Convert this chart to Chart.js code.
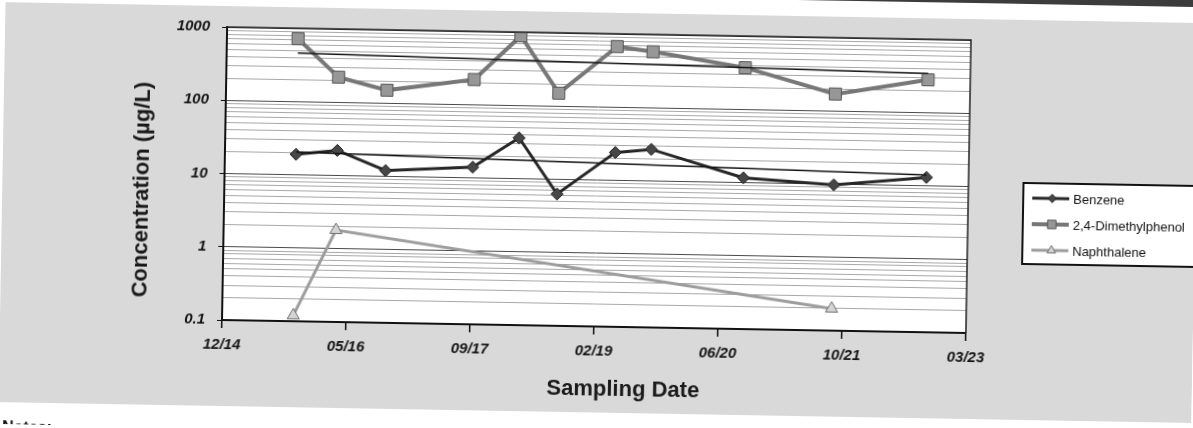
<!DOCTYPE html>
<html>
<head>
<meta charset="utf-8">
<title>Concentration vs Sampling Date</title>
<script src="https://cdn.jsdelivr.net/npm/chart.js@4.4.1/dist/chart.umd.min.js"></script>
<style>
    html, body { margin: 0; padding: 0; background: #fff; overflow: hidden; }
    #page {
        position: relative;
        width: 1193px;
        height: 428px;
        /* the report page sits a little crooked */
        transform: rotate(1deg);
        transform-origin: 222px 320px;
    }
    /* bottom edge of the table printed above the chart */
    #tableEdge {
        position: absolute;
        left: 560px;
        top: -32px;
        width: 720px;
        height: 22px;
        background: #3c3c3c;
    }
    #chartBox { position: absolute; left: 0; top: 0; width: 1193px; height: 428px; }
</style>
</head>
<body>
<div id="page">
    <div id="tableEdge"></div>
    <div id="chartBox"><canvas id="concentrationChart"></canvas></div>
</div>
<script>
// Sampling events, shared by all three compounds
const sampleDates = ['2015-10-11', '2016-03-25', '2016-10-07', '2017-09-23', '2018-03-27',
    '2018-08-31', '2019-04-20', '2019-09-12', '2020-09-19', '2021-09-19', '2022-09-27'];

// Concentrations in µg/L (null = not detected)
const benzene = [19, 22, 12, 14, 36, 6.3, 24, 27, 11.6, 9.8, 13];
const dimethylphenol = [720, 220, 150, 220, 890, 150, 670, 580, 370, 170, 280];
const naphthalene = [0.12, 1.8, null, null, null, null, null, null, null, 0.2, null];

// Exponential trend lines: value at the first and at the last sampling event
const benzeneTrend = [20.5, 14];
const dimethylphenolTrend = [460, 340];

// Date axis, one tick every 500 days
const xAxisStart = '2014-12-28';
const xTickStep = 500;
const xTickLabels = ['12/14', '05/16', '09/17', '02/19', '06/20', '10/21', '03/23'];

const yMin = 0.1;
const yMax = 1000;

const FONT = '"Liberation Sans", Arial, Helvetica, sans-serif';

function toDay(s) {
    return Date.parse(s + 'T00:00:00Z') / 86400000;
}

function asPoints(values) {
    return sampleDates.map((d, i) => ({ x: toDay(d), y: values[i] }));
}

function trendPoints(ends) {
    return [
        { x: toDay(sampleDates[0]), y: ends[0] },
        { x: toDay(sampleDates[sampleDates.length - 1]), y: ends[1] }
    ];
}

function isDecade(v) {
    const l = Math.log10(v);
    return Math.abs(l - Math.round(l)) < 1e-9;
}

// keep 1..9 x 10^n, drop the in-between 1.5 / 15 / 150 ticks
function isWholeStep(v) {
    const s = v / Math.pow(10, Math.floor(Math.log10(v) + 1e-9));
    return Math.abs(s - Math.round(s)) < 1e-6;
}

// grey page panel, white plot area and the notes heading
const pageBackground = {
    id: 'pageBackground',
    beforeDraw(chart) {
        const { ctx, chartArea: a } = chart;
        ctx.save();
        ctx.fillStyle = '#d9d9d9';
        ctx.fillRect(0, 6, chart.width, 400);
        ctx.fillStyle = '#ffffff';
        ctx.fillRect(a.left, a.top, a.right - a.left, a.bottom - a.top);
        ctx.fillStyle = '#111';
        ctx.font = 'bold 16px ' + FONT;
        ctx.textBaseline = 'top';
        ctx.fillText('Notes:', 4, 424);
        ctx.restore();
    }
};

// plot frame, axis titles and the boxed legend
const frameAndLegend = {
    id: 'frameAndLegend',
    afterDraw(chart) {
        const { ctx, chartArea: a } = chart;
        ctx.save();

        ctx.strokeStyle = '#222';
        ctx.lineWidth = 1.5;
        ctx.beginPath();
        ctx.moveTo(a.left, a.top);
        ctx.lineTo(a.right, a.top);
        ctx.lineTo(a.right, a.bottom);
        ctx.stroke();

        ctx.fillStyle = '#1a1a1a';
        ctx.font = 'bold 22px ' + FONT;
        ctx.textAlign = 'center';
        ctx.textBaseline = 'middle';
        ctx.fillText('Sampling Date', 624, 383);
        ctx.translate(140, 191);
        ctx.rotate(-Math.PI / 2);
        ctx.fillText('Concentration (µg/L)', 0, 0);
        ctx.setTransform(1, 0, 0, 1, 0, 0);

        const left = 1021, top = 169, width = 200, height = 81;
        ctx.fillStyle = '#ffffff';
        ctx.fillRect(left, top, width, height);
        ctx.strokeStyle = '#111';
        ctx.lineWidth = 2;
        ctx.strokeRect(left, top, width, height);

        const series = chart.data.datasets.filter(ds => !ds.isTrend);
        ctx.font = '13px ' + FONT;
        ctx.textAlign = 'left';
        series.forEach((ds, i) => {
            const y = top + 15 + i * 26;
            ctx.strokeStyle = ds.borderColor;
            ctx.lineWidth = ds.borderWidth;
            ctx.beginPath();
            ctx.moveTo(left + 9, y);
            ctx.lineTo(left + 46, y);
            ctx.stroke();

            ctx.fillStyle = ds.pointBackgroundColor;
            ctx.strokeStyle = ds.pointBorderColor;
            ctx.lineWidth = 1;
            Chart.helpers.drawPoint(ctx, {
                pointStyle: ds.pointStyle,
                radius: ds.pointRadius * 0.7,
                rotation: 0,
                borderWidth: 1
            }, left + 29, y);

            ctx.fillStyle = '#111';
            ctx.fillText(ds.label, left + 50, y + 1);
        });
        ctx.restore();
    }
};

const tickFont = { family: FONT, size: 15, weight: 'bold', style: 'italic' };

new Chart(document.getElementById('concentrationChart'), {
    type: 'line',
    data: {
        datasets: [{
            label: 'Benzene',
            data: asPoints(benzene),
            borderColor: '#262626',
            borderWidth: 3,
            pointStyle: 'rectRot',
            pointRadius: 6,
            pointBackgroundColor: '#474747',
            pointBorderColor: '#1e1e1e',
            pointBorderWidth: 1,
            order: 1
        }, {
            label: '2,4-Dimethylphenol',
            data: asPoints(dimethylphenol),
            borderColor: '#777777',
            borderWidth: 4,
            pointStyle: 'rect',
            pointRadius: 8.5,
            pointBackgroundColor: '#979797',
            pointBorderColor: '#555555',
            pointBorderWidth: 1,
            order: 1
        }, {
            label: 'Naphthalene',
            data: asPoints(naphthalene),
            spanGaps: true,
            borderColor: '#9d9d9d',
            borderWidth: 3,
            pointStyle: 'triangle',
            pointRadius: 7,
            pointBackgroundColor: '#d4d4d4',
            pointBorderColor: '#6f6f6f',
            pointBorderWidth: 1,
            order: 1
        }, {
            label: 'Benzene trend',
            isTrend: true,
            data: trendPoints(benzeneTrend),
            borderColor: '#111',
            borderWidth: 1.5,
            pointRadius: 0,
            order: 0
        }, {
            label: '2,4-Dimethylphenol trend',
            isTrend: true,
            data: trendPoints(dimethylphenolTrend),
            borderColor: '#111',
            borderWidth: 1.5,
            pointRadius: 0,
            order: 0
        }]
    },
    options: {
        responsive: true,
        maintainAspectRatio: false,
        animation: false,
        events: [],
        layout: { padding: { left: 0, top: 27, right: 227, bottom: 0 } },
        plugins: {
            legend: { display: false },
            tooltip: { enabled: false }
        },
        scales: {
            x: {
                type: 'linear',
                min: toDay(xAxisStart),
                max: toDay(xAxisStart) + xTickStep * (xTickLabels.length - 1),
                afterBuildTicks: scale => {
                    scale.ticks = xTickLabels.map((_, i) => ({ value: scale.min + i * xTickStep }));
                },
                afterFit: scale => { scale.height = 108; },
                ticks: {
                    autoSkip: false,
                    maxRotation: 0,
                    padding: 8,
                    color: '#151515',
                    font: tickFont,
                    callback: (value, index) => xTickLabels[index]
                },
                grid: { drawOnChartArea: false, tickLength: 8, color: '#111', lineWidth: 1.5 },
                border: { color: '#111', width: 2 }
            },
            y: {
                type: 'logarithmic',
                min: yMin,
                max: yMax,
                afterBuildTicks: scale => {
                    scale.ticks = scale.ticks.filter(t => isWholeStep(t.value));
                },
                afterFit: scale => { scale.width = 222; },
                ticks: {
                    autoSkip: false,
                    padding: 12,
                    color: '#151515',
                    font: tickFont,
                    callback: value => isDecade(value) ? String(Number(value.toPrecision(3))) : ''
                },
                grid: {
                    color: c => (c.tick && isDecade(c.tick.value)) ? '#4a4a4a' : '#a8a8a8',
                    tickColor: c => (c.tick && isDecade(c.tick.value)) ? '#111' : 'rgba(0,0,0,0)',
                    tickLength: 5,
                    lineWidth: 1
                },
                border: { color: '#111', width: 2 }
            }
        }
    },
    plugins: [pageBackground, frameAndLegend]
});
</script>
</body>
</html>
